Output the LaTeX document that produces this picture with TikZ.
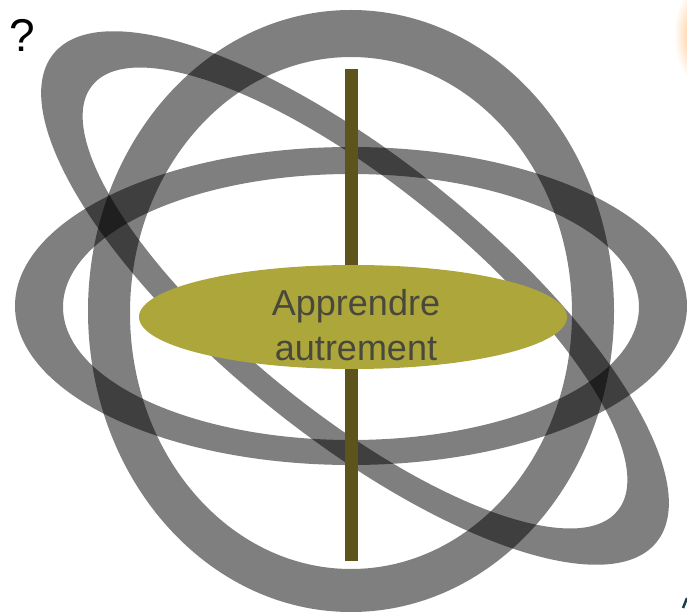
\documentclass[tikz,border=0pt]{standalone}
\usepackage{fontspec}
\setmainfont{Liberation Sans}
\definecolor{olivefill}{RGB}{173,166,58}
\definecolor{barcol}{RGB}{92,84,26}
\definecolor{txtcol}{RGB}{72,72,60}
\definecolor{edgeblue}{RGB}{30,60,80}
\tikzset{
  ring/.style={fill=black, fill opacity=0.5, even odd rule},
  txt/.style={font=\fontsize{36}{45}\selectfont, text=txtcol, inner sep=0pt, anchor=base},
}
\begin{document}
\begin{tikzpicture}[x=1pt,y=1pt]
\useasboundingbox (0,0) rectangle (687,611);
% faint cropped elements at the right edge
\shade[inner color=orange!45, outer color=white] (694,576) ellipse [x radius=20, y radius=46];
\draw[edgeblue, line width=2.5pt] (683,3) -- (687,13);
% vertical ring
\fill[ring] (351,300) ellipse [x radius=263, y radius=301]
            (351,298) ellipse [x radius=221, y radius=256];
% horizontal ring
\fill[ring] (351,305) ellipse [x radius=336, y radius=159]
            (351,304) ellipse [x radius=288, y radius=133];
% tilted ring
\begin{scope}[rotate around={-39:(355,313)}]
\fill[ring] (355,313) ellipse [x radius=388, y radius=138]
            (355,313) ellipse [x radius=338, y radius=114];
\end{scope}
% axis bar
\fill[barcol] (345,50) rectangle (358,542);
% central ellipse
\fill[olivefill] (353,294) ellipse [x radius=214, y radius=52];
\node[txt] (l1) at (356,296) {Apprendre};
\node[txt] (l2) at (356,251) {autrement};
\node[font=\fontsize{46}{50}\selectfont, inner sep=0pt, anchor=base] (q) at (22,559) {?};
\end{tikzpicture}
\end{document}
